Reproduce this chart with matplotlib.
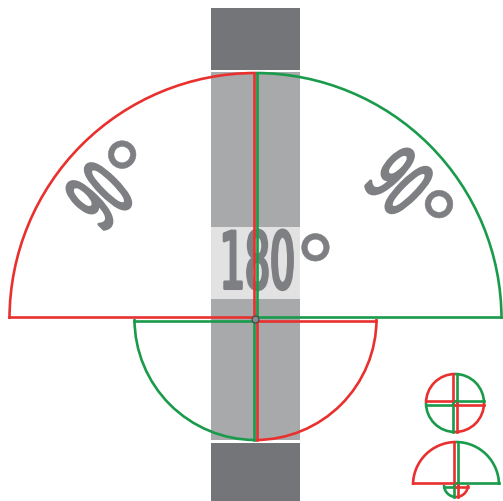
import matplotlib
matplotlib.use('Agg')
import matplotlib.pyplot as plt
import numpy as np
from matplotlib.patches import Arc, Rectangle
from matplotlib.patheffects import AbstractPathEffect
from matplotlib.transforms import Affine2D

RED = '#e8312f'
GREEN = '#1a9b4b'
DARK = '#747578'
LIGHT = '#a8a9ab'
BAND = '#e2e2e2'
TXT = '#7e7f82'

# angle labels: number, ink centre x, y (pixels), rotation
labels = ['90', '90', '180']
label_x = [100, 399, 257.5]
label_y = [197, 183, 262]
label_rot = [45, -45, 0]
deg_u = [45, 44, 58]     # position of the degree sign relative to the number
deg_v = [17, 16, 17]

# circles: centre x, centre y, radius (pixels)
big_c = (255.5, 320)
big_r = 246
low_r = 121
icon1_c = (455, 404)
icon1_r = 29
icon2_c = (456, 486)
icon2_r = 43
icon2_small_r = 12

fig = plt.figure(figsize=(5.03, 5.02), dpi=100)
ax = fig.add_axes([0, 0, 1, 1])
ax.set_xlim(0, 503)
ax.set_ylim(502, 0)
ax.axis('off')

# gray strip
ax.add_patch(Rectangle((211, 9), 89, 62, color=DARK, lw=0, zorder=1))
ax.add_patch(Rectangle((211, 73), 89, 368, color=LIGHT, lw=0, zorder=1))
ax.add_patch(Rectangle((211, 444), 89, 60, color=DARK, lw=0, zorder=1))
ax.add_patch(Rectangle((211, 228), 89, 72, color=BAND, lw=0, zorder=1))

lw = 1.9


def half_disc(cx, cy, r, up, left_col, right_col, off=1.6):
    # y axis is inverted: screen-up is data angle 270
    d = 2 * r
    if up:
        ax.add_patch(Arc((cx, cy), d, d, theta1=180, theta2=270, color=left_col, lw=lw, zorder=3))
        ax.add_patch(Arc((cx, cy), d, d, theta1=270, theta2=360, color=right_col, lw=lw, zorder=3))
        ax.plot([cx - off, cx - off], [cy, cy - r], color=left_col, lw=lw, zorder=3)
        ax.plot([cx + off, cx + off], [cy, cy - r], color=right_col, lw=lw, zorder=3)
    else:
        ax.add_patch(Arc((cx, cy), d, d, theta1=90, theta2=180, color=left_col, lw=lw, zorder=3))
        ax.add_patch(Arc((cx, cy), d, d, theta1=0, theta2=90, color=right_col, lw=lw, zorder=3))
        ax.plot([cx - off, cx - off], [cy, cy + r], color=left_col, lw=lw, zorder=3)
        ax.plot([cx + off, cx + off], [cy, cy + r], color=right_col, lw=lw, zorder=3)
    yb = cy - off if up else cy + off
    ax.plot([cx - r, cx], [yb, yb], color=left_col, lw=lw, zorder=3)
    ax.plot([cx, cx + r], [yb, yb], color=right_col, lw=lw, zorder=3)


half_disc(big_c[0], big_c[1], big_r, True, RED, GREEN)
half_disc(big_c[0], big_c[1], low_r, False, GREEN, RED)
ax.plot(big_c[0], big_c[1], 'o', ms=5, mfc='#8a8b8e', mec='#444', mew=0.8, zorder=4)

# icons
half_disc(icon1_c[0], icon1_c[1], icon1_r, True, RED, GREEN)
half_disc(icon1_c[0], icon1_c[1], icon1_r, False, GREEN, RED)
half_disc(icon2_c[0], icon2_c[1], icon2_r, True, RED, GREEN)
half_disc(icon2_c[0], icon2_c[1], icon2_small_r, False, GREEN, RED)


class Stretch(AbstractPathEffect):
    """scale glyphs in the text frame around the anchor (tall, condensed look)"""
    def __init__(self, x, y, rot, sx, sy, stroke):
        super().__init__()
        self.x, self.y, self.rot = x, y, rot
        self.sx, self.sy, self.stroke = sx, sy, stroke

    def draw_path(self, renderer, gc, tpath, affine, rgbFace=None):
        px, py = ax.transData.transform((self.x, self.y))
        t = (Affine2D().translate(-px, -py).rotate_deg(-self.rot)
             .scale(self.sx, self.sy).rotate_deg(self.rot).translate(px, py))
        gc0 = renderer.new_gc()
        gc0.copy_properties(gc)
        gc0.set_linewidth(self.stroke)
        gc0.set_foreground(rgbFace)
        gc0.set_joinstyle('round')
        gc0.set_capstyle('round')
        renderer.draw_path(gc0, tpath, affine + t, rgbFace)
        gc0.restore()


cap = 58
for t, x, y, r, du, dv in zip(labels, label_x, label_y, label_rot, deg_u, deg_v):
    a = np.deg2rad(r)
    read = np.array([np.cos(a), -np.sin(a)])
    upv = np.array([-np.sin(a), -np.cos(a)])
    base = np.array([x, y]) - upv * (cap / 2 - 1.5)
    ax.text(base[0], base[1], t, rotation=r, fontsize=27, color=TXT, family='DejaVu Sans',
            ha='center', va='baseline', rotation_mode='anchor', zorder=2,
            path_effects=[Stretch(base[0], base[1], r, 1.05, 2.1, 2.2)])
    dc = np.array([x, y]) + read * du + upv * (dv - 30.5)
    ax.text(dc[0], dc[1], '°', rotation=r, fontsize=32, color=TXT, family='DejaVu Sans',
            ha='center', va='center', rotation_mode='anchor', zorder=2,
            path_effects=[Stretch(dc[0], dc[1], r, 2.0, 2.0, 0.4)])

fig.savefig('out.png', dpi=100, facecolor='white')
